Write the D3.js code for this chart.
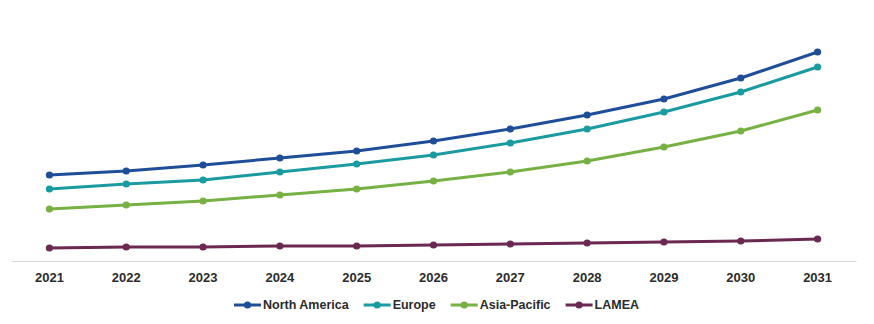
<!DOCTYPE html>
<html>
<head>
<meta charset="utf-8">
<script src="https://cdn.jsdelivr.net/npm/d3@7"></script>
<style>
  html, body { margin: 0; padding: 0; background: #fff; }
  svg { display: block; }
  text { font-family: "Liberation Sans", Arial, sans-serif; }
</style>
</head>
<body>
<svg id="chart" width="874" height="324"></svg>
<script>
const years = ["2021","2022","2023","2024","2025","2026","2027","2028","2029","2030","2031"];
const northAmerica = [86, 90, 96, 103, 110, 120, 132, 146, 162, 183, 209];
const europe       = [72, 77, 81, 89, 97, 106, 118, 132, 149, 169, 194];
const asiaPacific  = [52, 56, 60, 66, 72, 80, 89, 100, 114, 130, 151];
const lamea        = [13, 14, 14, 15, 15, 16, 17, 18, 19, 20, 22];
const seriesNames  = ["North America", "Europe", "Asia-Pacific", "LAMEA"];
const seriesColors = ["#1f4e99", "#1a9aa1", "#77b043", "#6b2852"];

const seriesData = [northAmerica, europe, asiaPacific, lamea];

const svg = d3.select("#chart");
const left = 11, right = 856, baseY = 261, topY = 11;

const x = d3.scaleBand().domain(years).range([left, right]).padding(0);
const y = d3.scaleLinear().domain([0, 250]).range([baseY, topY]);
const cx = d => x(d) + x.bandwidth() / 2;

// x axis
const axis = svg.append("g")
  .attr("transform", `translate(0,${baseY})`)
  .call(d3.axisBottom(x).tickSize(0).tickSizeOuter(0).tickPadding(12));
axis.select(".domain").attr("stroke", "#d9d9d9").attr("stroke-width", 1);
axis.selectAll("text")
  .attr("fill", "#2b2b2b")
  .style("font-size", "13px")
  .style("font-weight", "bold")
  .style("font-family", '"Liberation Sans", Arial, sans-serif');

const line = d3.line().x((d, i) => cx(years[i])).y(d => y(d));

seriesData.forEach((vals, si) => {
  const g = svg.append("g");
  g.append("path")
    .datum(vals)
    .attr("d", line)
    .attr("fill", "none")
    .attr("stroke", seriesColors[si])
    .attr("stroke-width", 3)
    .attr("stroke-linejoin", "round");
  g.selectAll("circle")
    .data(vals)
    .join("circle")
    .attr("cx", (d, i) => cx(years[i]))
    .attr("cy", d => y(d))
    .attr("r", 3.6)
    .attr("fill", seriesColors[si]);
});

// legend
const legY = 305;
const leg = svg.append("g");
const items = [];
seriesNames.forEach((name, i) => {
  const it = leg.append("g");
  it.append("line").attr("x1", 0).attr("x2", 27).attr("y1", 0).attr("y2", 0)
    .attr("stroke", seriesColors[i]).attr("stroke-width", 3);
  it.append("circle").attr("cx", 13.5).attr("cy", 0).attr("r", 3.6).attr("fill", seriesColors[i]);
  const t = it.append("text").attr("x", 29).attr("y", 0).attr("dy", "0.35em")
    .attr("fill", "#2b2b2b").style("font-size", "12.5px").style("font-weight", "bold")
    .text(name);
  items.push({g: it, w: 29 + t.node().getComputedTextLength()});
});
const gap = 15;
const total = d3.sum(items, d => d.w) + gap * (items.length - 1);
let xpos = 436.5 - total / 2;
items.forEach(d => {
  d.g.attr("transform", `translate(${xpos},${legY})`);
  xpos += d.w + gap;
});
</script>
</body>
</html>
